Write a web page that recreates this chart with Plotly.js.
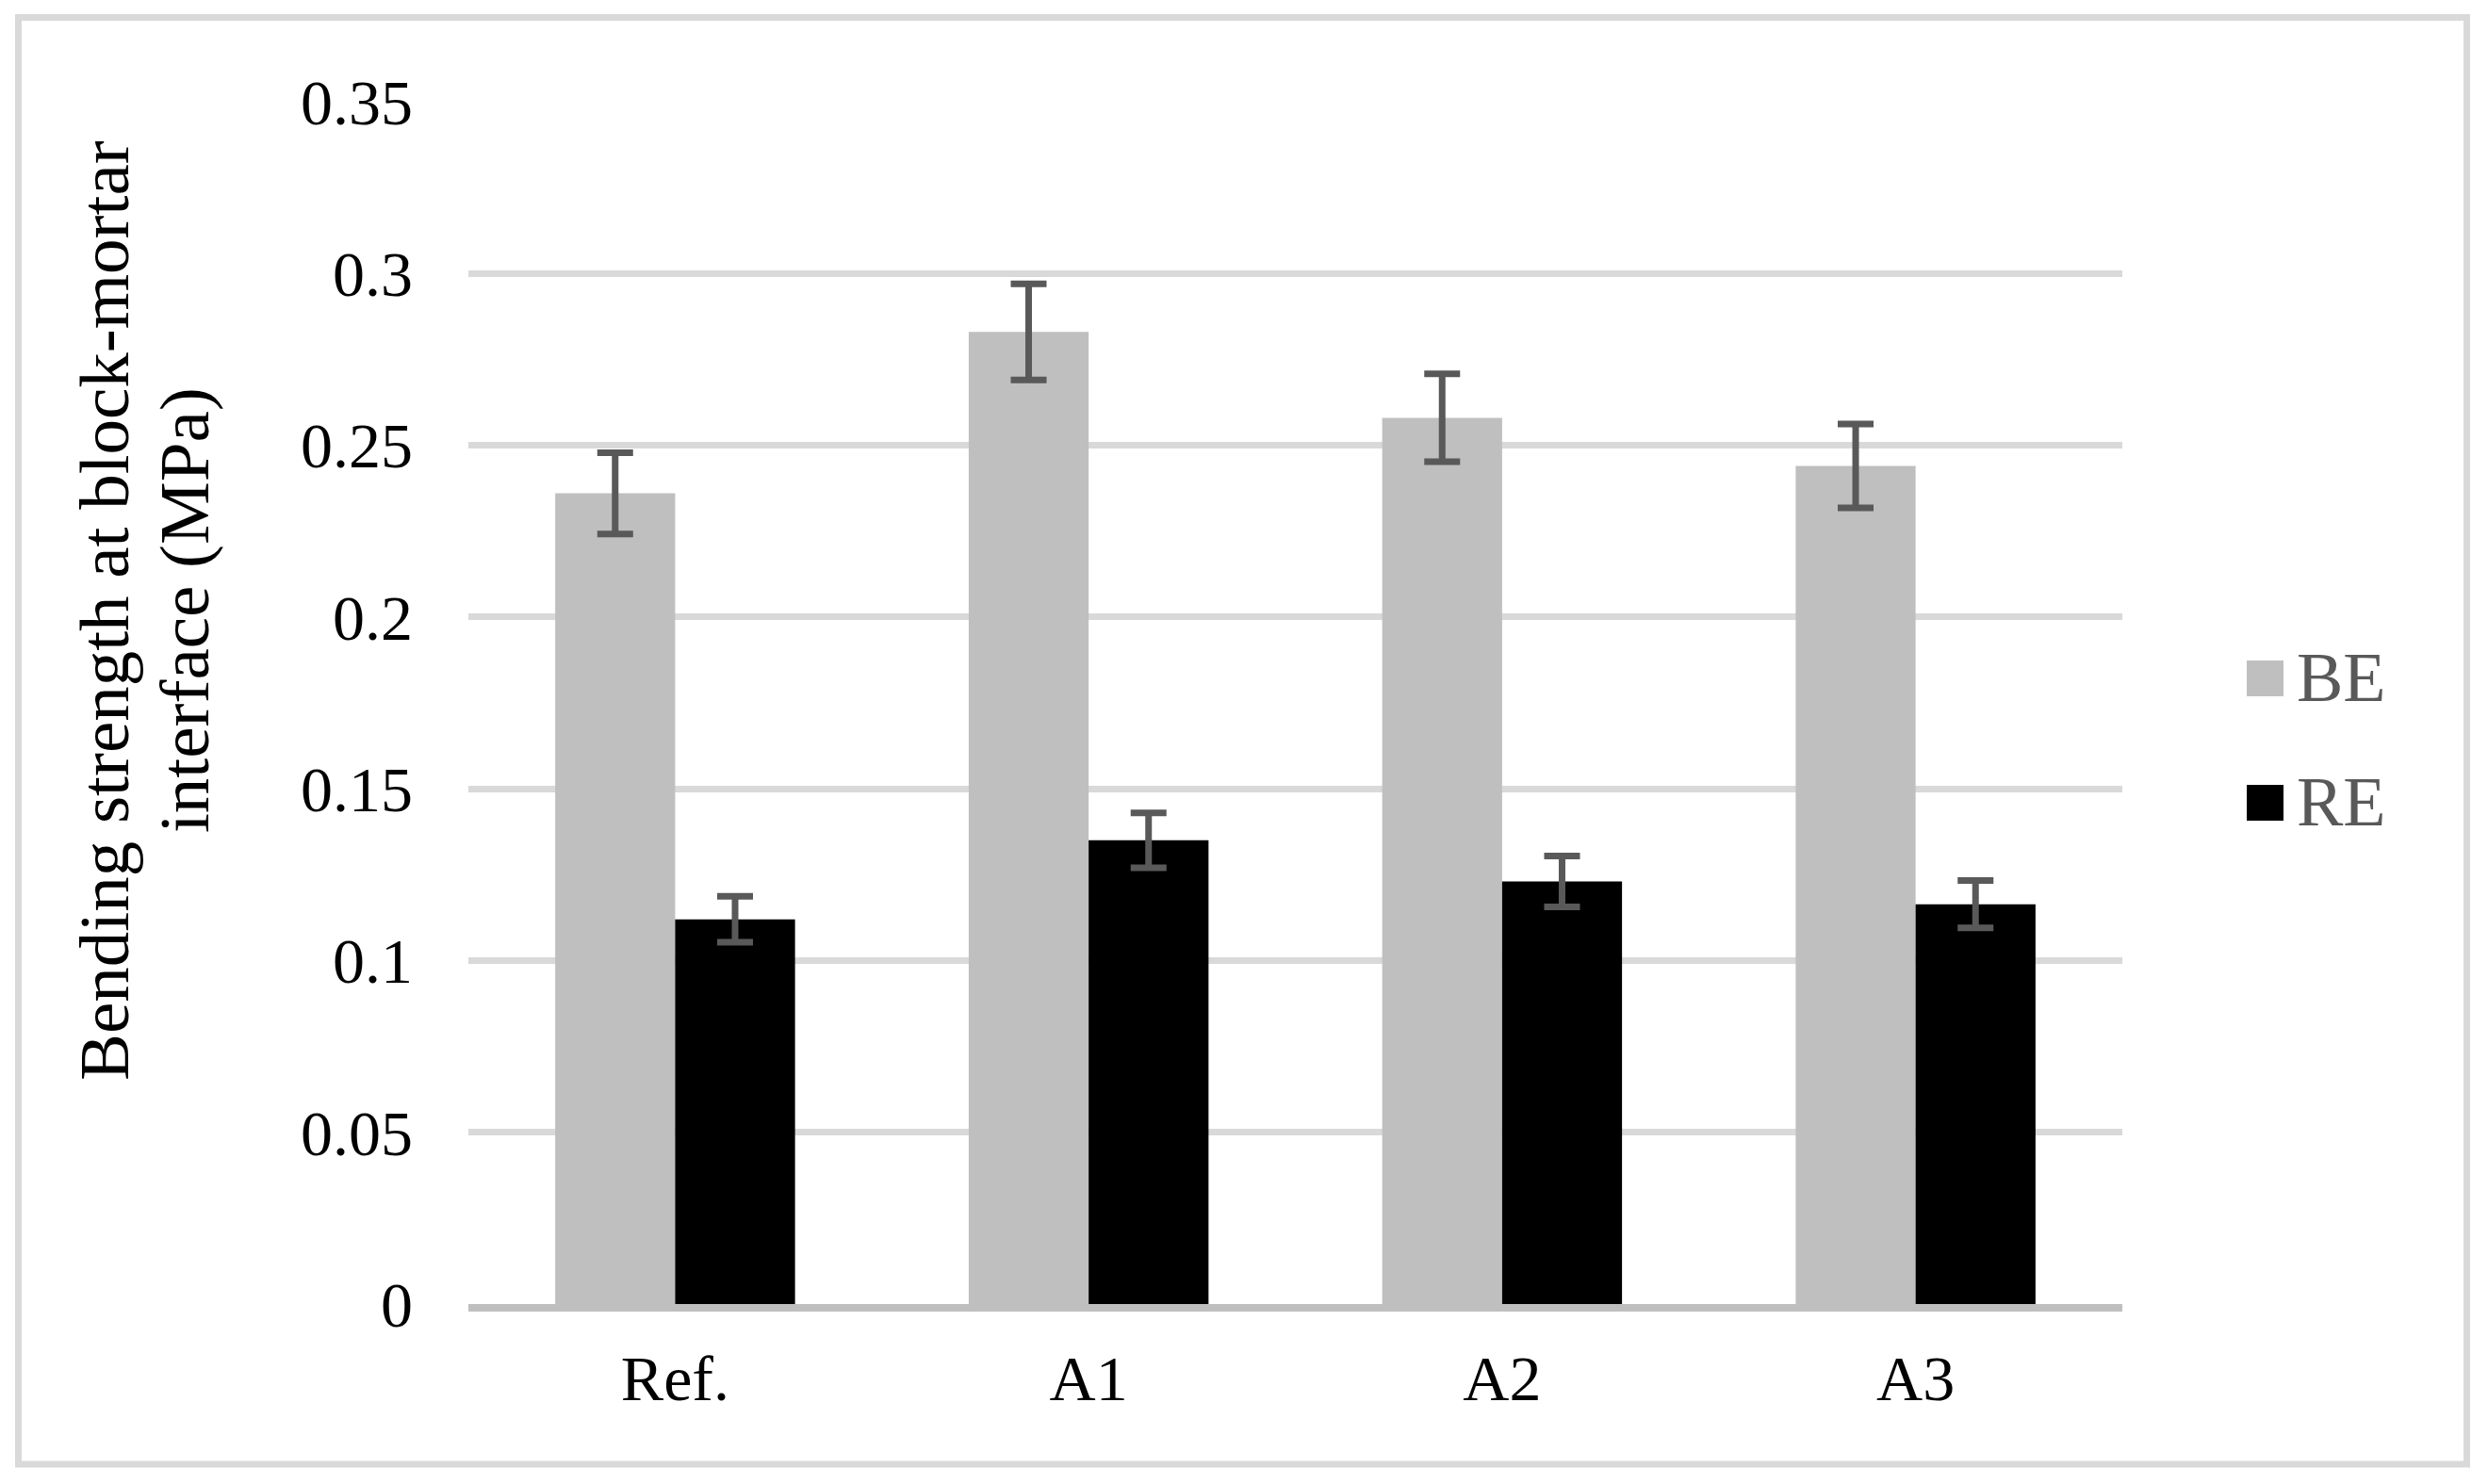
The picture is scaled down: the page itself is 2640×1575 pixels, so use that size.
<!DOCTYPE html>
<html>
<head>
<meta charset="utf-8">
<script src="https://cdn.plot.ly/plotly-3.0.1.min.js"></script>
<style>html,body{margin:0;padding:0;background:#fff;}#chart{width:2640px;height:1575px;}</style>
</head>
<body>
<div id="chart"></div>
<script>
// ---- data ----
const categories = ["Ref.", "A1", "A2", "A3"];
const seriesNames = ["BE", "RE"];
const beValues = [0.236, 0.283, 0.258, 0.244];
const beErrors = [0.0118, 0.014, 0.0128, 0.0122];
const reValues = [0.112, 0.135, 0.123, 0.1164];
const reErrors = [0.0067, 0.008, 0.0074, 0.0069];
const yTickVals = [0, 0.05, 0.1, 0.15, 0.2, 0.25, 0.3, 0.35];
const yTickText = ["0", "0.05", "0.1", "0.15", "0.2", "0.25", "0.3", "0.35"];
const yGridVals = [0.05, 0.1, 0.15, 0.2, 0.25, 0.3];
const yTitleLines = ["Bending strength at block-mortar", "interface (MPa)"];

// ---- layout geometry ----
const W = 2640, H = 1575;
const L = 497, R = 2252, T = 108, B = 1384;
const pw = R - L, ph = B - T;
const px = v => (v - L) / pw;
const py = v => (B - v) / ph;
const serif = "Liberation Serif, Times New Roman, serif";
const colors = ["#bfbfbf", "#000000"];

const errStyle = {color: "#595959", thickness: 7, width: 19};

const traces = [
  {type: "bar", name: seriesNames[0], x: categories, y: beValues,
   marker: {color: colors[0]}, showlegend: false, hoverinfo: "none",
   error_y: Object.assign({type: "data", array: beErrors, visible: true}, errStyle)},
  {type: "bar", name: seriesNames[1], x: categories, y: reValues,
   marker: {color: colors[1]}, showlegend: false, hoverinfo: "none",
   error_y: Object.assign({type: "data", array: reErrors, visible: true}, errStyle)},
  {type: "scatter", x: categories, y: [null, null, null, null], yaxis: "y2",
   mode: "markers", showlegend: false, hoverinfo: "none"}
];

const shapes = [
  {type: "rect", xref: "paper", yref: "paper",
   x0: px(19.5), x1: px(2617.5), y0: py(1554), y1: py(18.5),
   line: {color: "#d9d9d9", width: 7}, fillcolor: "rgba(0,0,0,0)", layer: "below"}
];
const annotations = [];
const titleX = [110, 195];
yTitleLines.forEach((t, i) => {
  annotations.push({xref: "paper", yref: "paper", x: px(titleX[i]), y: py(648),
    xanchor: "center", yanchor: "middle", text: t, textangle: -90, showarrow: false,
    font: {family: serif, size: 75, color: "#000"}});
});
const legendY = [720, 852];
seriesNames.forEach((n, i) => {
  shapes.push({type: "rect", xref: "paper", yref: "paper",
    x0: px(2384), x1: px(2423), y0: py(legendY[i] + 19), y1: py(legendY[i] - 19),
    line: {width: 0}, fillcolor: colors[i]});
  annotations.push({xref: "paper", yref: "paper", x: px(2435), y: py(legendY[i] - 1),
    xanchor: "left", yanchor: "middle", text: n, showarrow: false,
    font: {family: serif, size: 74, color: "#595959"}});
});

const layout = {
  width: W, height: H,
  margin: {l: L, r: W - R, t: T, b: H - B, pad: 0},
  paper_bgcolor: "#ffffff", plot_bgcolor: "rgba(0,0,0,0)",
  barmode: "group", bargap: 0.42, bargroupgap: 0,
  showlegend: false,
  font: {family: serif, size: 68, color: "#000"},
  xaxis: {type: "category", showgrid: false, zeroline: false, ticks: "",
          showline: true, linecolor: "#bfbfbf", linewidth: 8,
          tickfont: {family: serif, size: 68, color: "#000"}, ticklabelstandoff: 12},
  yaxis: {range: [0, 0.35], tickvals: yTickVals, ticktext: yTickText,
          showgrid: false, zeroline: false, showline: false, ticks: "",
          tickfont: {family: serif, size: 68, color: "#000"}, ticklabelstandoff: 58},
  yaxis2: {range: [0, 0.35], overlaying: "y", side: "left", tickvals: yGridVals,
           showticklabels: false, showgrid: true, gridcolor: "#d9d9d9", gridwidth: 7,
           zeroline: false, showline: false, ticks: ""},
  shapes: shapes,
  annotations: annotations
};

Plotly.newPlot("chart", traces, layout, {staticPlot: true, displayModeBar: false});
</script>
</body>
</html>
